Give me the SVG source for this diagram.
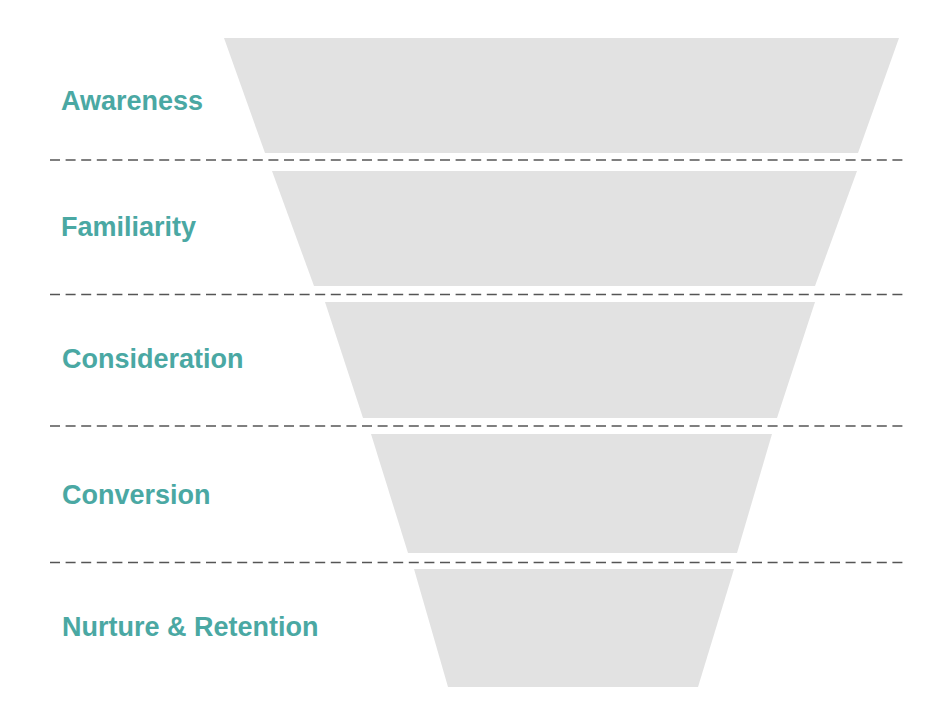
<svg xmlns="http://www.w3.org/2000/svg" width="939" height="708" viewBox="0 0 939 708">
  <style>
    .stage { fill: #e2e2e2; }
    .label { font-family: "Liberation Sans", Arial, sans-serif; font-weight: bold; font-size: 27px; fill: #4aa8a3; }
    .divider { stroke: #555555; stroke-width: 1.5; stroke-dasharray: 10 5.6; fill: none; }
  </style>
  <rect width="939" height="708" fill="#ffffff"/>
  <g id="awareness">
    <polygon class="stage" points="224,38 899,38 858,153 265,153"/>
    <text class="label" x="61" y="110">Awareness</text>
  </g>
  <g id="familiarity">
    <polygon class="stage" points="272,171 857,171 815,286 314,286"/>
    <text class="label" x="61" y="236">Familiarity</text>
  </g>
  <g id="consideration">
    <polygon class="stage" points="325,302 815,302 777,418 363,418"/>
    <text class="label" x="62" y="368">Consideration</text>
  </g>
  <g id="conversion">
    <polygon class="stage" points="371,434 772,434 737,553 408,553"/>
    <text class="label" x="62" y="504">Conversion</text>
  </g>
  <g id="nurture">
    <polygon class="stage" points="414,569 734,569 698,687 448,687"/>
    <text class="label" x="62" y="636">Nurture &amp; Retention</text>
  </g>
  <g id="dividers">
    <line class="divider" x1="50" y1="160" x2="903" y2="160"/>
    <line class="divider" x1="50" y1="294.5" x2="903" y2="294.5"/>
    <line class="divider" x1="50" y1="426" x2="903" y2="426"/>
    <line class="divider" x1="50" y1="562.5" x2="903" y2="562.5"/>
  </g>
</svg>
